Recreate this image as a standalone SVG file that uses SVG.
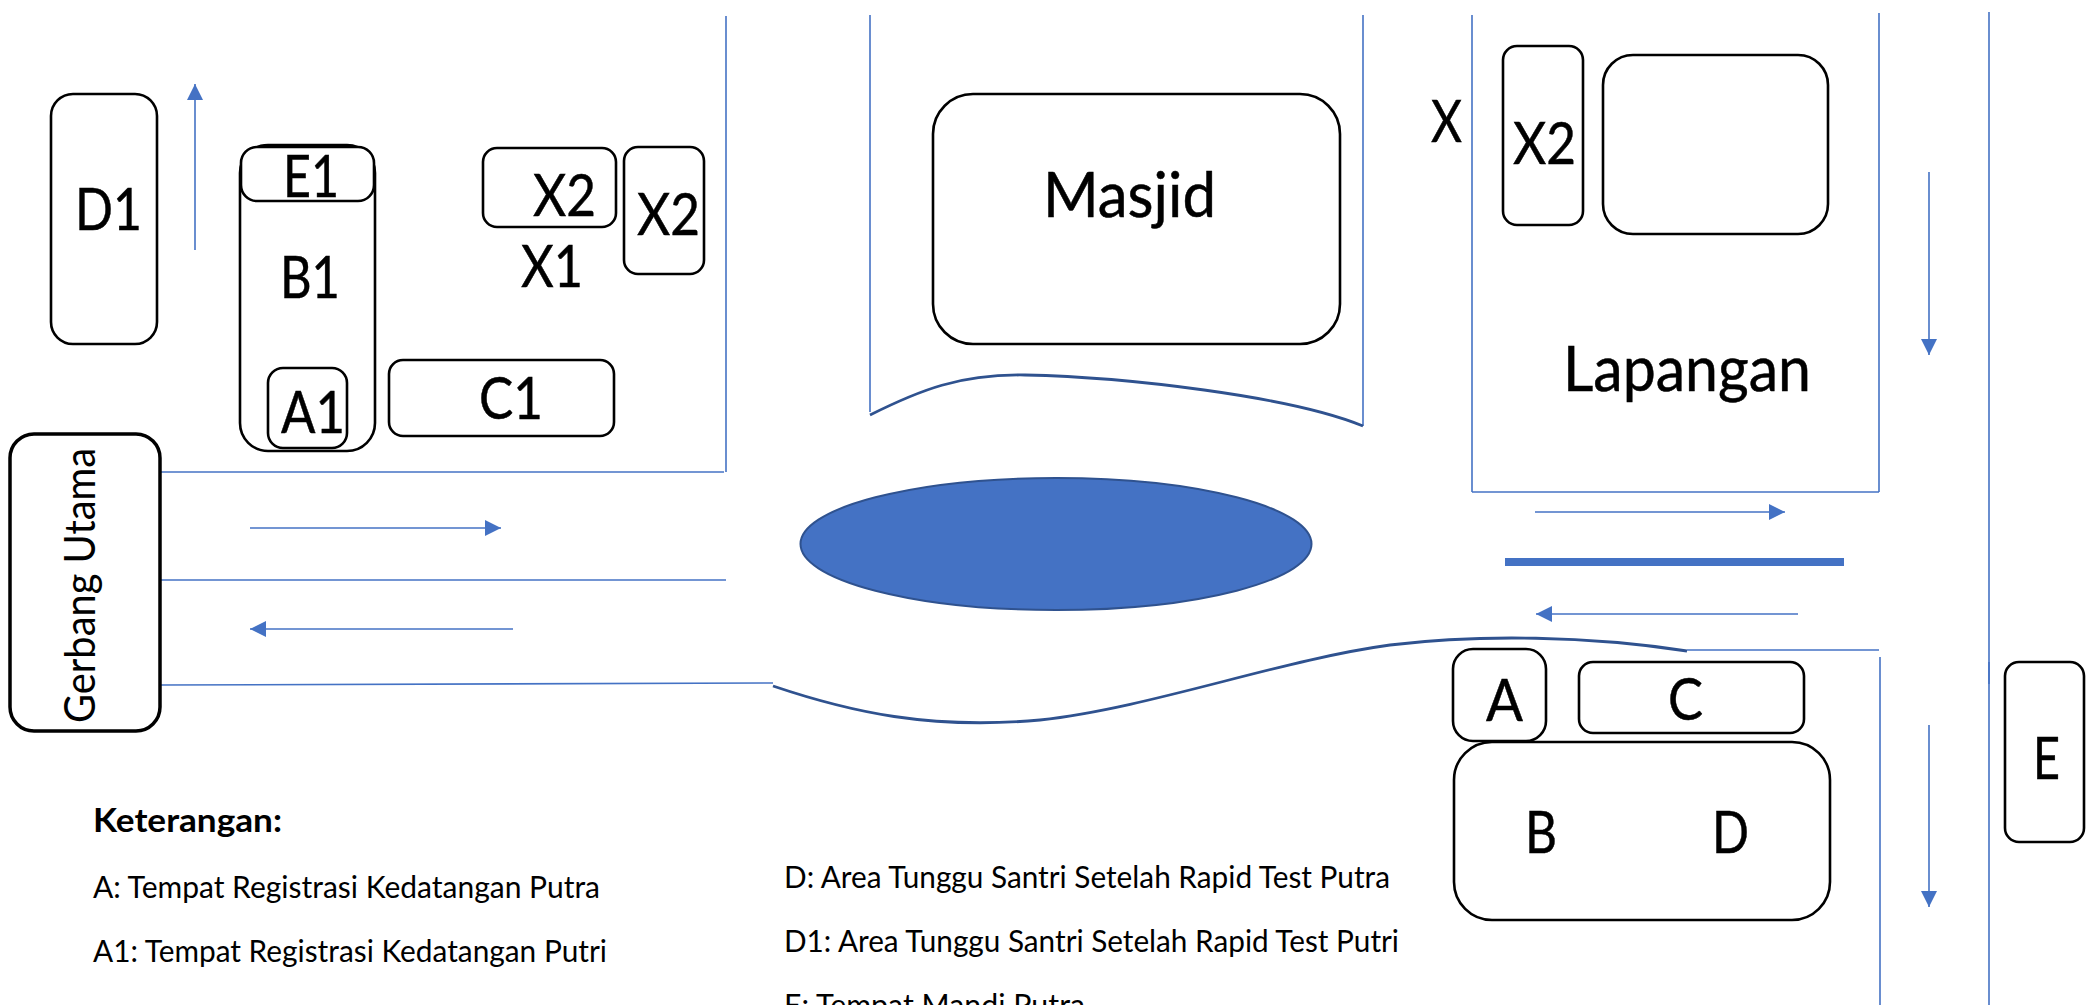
<svg xmlns="http://www.w3.org/2000/svg" width="2089" height="1005" viewBox="0 0 2089 1005">
<style>
text{font-family:"Lato","Open Sans","Liberation Sans",sans-serif;fill:#000}
.n{fill:#fff;stroke:#000;stroke-width:2.6}
.l{font-size:59px;stroke:#000;stroke-width:.5}
.s{font-size:31px}
.c line,.c path{fill:none;stroke:#4472c4;stroke-width:1.6}
.c .a{marker-end:url(#ah)}
.c .w{stroke:#2f528f;stroke-width:2.8}
</style>
<defs><marker id="ah" markerUnits="userSpaceOnUse" markerWidth="18" markerHeight="18" refX="16" refY="8" orient="auto"><path d="M0 0L16 8L0 16Z" fill="#4472c4" stroke="none"/></marker></defs>
<rect width="2089" height="1005" fill="#fff"/>
<g id="connectors" class="c">
<line x1="726" y1="16" x2="726" y2="472"/>
<line x1="160" y1="472" x2="724" y2="472"/>
<line x1="160" y1="580" x2="726" y2="580"/>
<line x1="160" y1="685" x2="773" y2="683"/>
<path class="w" d="M773 686C850 712 930 730 1040 720C1150 708 1280 660 1390 645C1480 634 1590 636 1687 651"/>
<line x1="1687" y1="650" x2="1879" y2="650"/>
<line x1="870" y1="15" x2="870" y2="412"/>
<line x1="1363" y1="15" x2="1363" y2="426"/>
<path class="w" d="M870 415C920 390 960 374 1025 375C1125 377 1290 396 1363 426"/>
<line x1="1472" y1="15" x2="1472" y2="492"/>
<line x1="1472" y1="492" x2="1879" y2="492"/>
<line x1="1879" y1="13" x2="1879" y2="492"/>
<line x1="1880" y1="657" x2="1880" y2="1005"/>
<line x1="1989" y1="12" x2="1989" y2="684"/>
<line x1="1989" y1="662" x2="1989" y2="1005"/>
<line class="a" x1="195" y1="250" x2="195" y2="84"/>
<line class="a" x1="250" y1="528" x2="501" y2="528"/>
<line class="a" x1="513" y1="629" x2="250" y2="629"/>
<line class="a" x1="1535" y1="512" x2="1785" y2="512"/>
<line class="a" x1="1798" y1="614" x2="1536" y2="614"/>
<line class="a" x1="1929" y1="172" x2="1929" y2="355"/>
<line class="a" x1="1929" y1="725" x2="1929" y2="907"/>
<line x1="1505" y1="562" x2="1844" y2="562" style="stroke-width:8"/>
</g>
<g id="node-kolam"><ellipse cx="1056" cy="544" rx="255.5" ry="66" fill="#4472c4" stroke="#2f528f" stroke-width="2"/></g>
<g id="node-d1"><rect class="n" x="51" y="94" width="106" height="250" rx="22"/><text class="l" x="75" y="230" textLength="67" lengthAdjust="spacingAndGlyphs">D1</text></g>
<g id="node-b1"><rect class="n" x="240" y="145" width="135" height="306" rx="28"/><text class="l" x="280" y="298" textLength="60" lengthAdjust="spacingAndGlyphs">B1</text></g>
<g id="node-e1"><rect class="n" x="241" y="147" width="133" height="54" rx="16"/><text class="l" x="283" y="197" textLength="56" lengthAdjust="spacingAndGlyphs">E1</text></g>
<g id="node-a1"><rect class="n" x="268" y="368" width="79" height="80" rx="15"/><text class="l" x="281" y="433" textLength="64" lengthAdjust="spacingAndGlyphs">A1</text></g>
<g id="node-c1"><rect class="n" x="389" y="360" width="225" height="76" rx="14"/><text class="l" x="479" y="419" textLength="64" lengthAdjust="spacingAndGlyphs">C1</text></g>
<g id="node-x2a"><rect class="n" x="483" y="148" width="133" height="79" rx="14"/><text class="l" x="533" y="216" textLength="63" lengthAdjust="spacingAndGlyphs">X2</text></g>
<g id="node-x2b"><rect class="n" x="624" y="147" width="80" height="127" rx="14"/><text class="l" x="637" y="235" textLength="63" lengthAdjust="spacingAndGlyphs">X2</text></g>
<g id="node-x1"><text class="l" x="521" y="287" textLength="62" lengthAdjust="spacingAndGlyphs">X1</text></g>
<g id="node-gerbang"><rect class="n" x="10" y="434" width="150" height="297" rx="24" style="stroke-width:3.5"/><text transform="translate(95 723) rotate(-90)" style="font-size:43px" textLength="275" lengthAdjust="spacingAndGlyphs">Gerbang Utama</text></g>
<g id="node-masjid"><rect class="n" x="933" y="94" width="407" height="250" rx="40"/><text class="l" x="1043" y="217" textLength="173" lengthAdjust="spacingAndGlyphs" style="font-size:62px">Masjid</text></g>
<g id="node-x"><text class="l" x="1431" y="142" textLength="31" lengthAdjust="spacingAndGlyphs">X</text></g>
<g id="node-x2c"><rect class="n" x="1503" y="46" width="80" height="179" rx="14"/><text class="l" x="1513" y="164" textLength="63" lengthAdjust="spacingAndGlyphs">X2</text></g>
<g id="node-lapangan-box"><rect class="n" x="1603" y="55" width="225" height="179" rx="30"/></g>
<g id="node-lapangan"><text class="l" x="1563" y="391" textLength="248" lengthAdjust="spacingAndGlyphs" style="font-size:62px">Lapangan</text></g>
<g id="node-b"><rect class="n" x="1454" y="742" width="376" height="178" rx="38"/><text class="l" x="1525" y="853" textLength="32" lengthAdjust="spacingAndGlyphs">B</text><text class="l" x="1712" y="853" textLength="37" lengthAdjust="spacingAndGlyphs">D</text></g>
<g id="node-a"><rect class="n" x="1453" y="649" width="93" height="92" rx="20"/><text class="l" x="1486" y="721" textLength="37" lengthAdjust="spacingAndGlyphs">A</text></g>
<g id="node-c"><rect class="n" x="1579" y="662" width="225" height="71" rx="14"/><text class="l" x="1668" y="720" textLength="35" lengthAdjust="spacingAndGlyphs">C</text></g>
<g id="node-e"><rect class="n" x="2005" y="662" width="79" height="180" rx="14"/><text class="l" x="2033" y="779" textLength="27" lengthAdjust="spacingAndGlyphs">E</text></g>
<g id="legend">
<text class="s" x="93" y="832" style="font-weight:700;font-size:33px" textLength="189" lengthAdjust="spacingAndGlyphs">Keterangan:</text>
<text class="s" x="93" y="898" textLength="507" lengthAdjust="spacingAndGlyphs">A: Tempat Registrasi Kedatangan Putra</text>
<text class="s" x="93" y="962" textLength="514" lengthAdjust="spacingAndGlyphs">A1: Tempat Registrasi Kedatangan Putri</text>
<text class="s" x="784" y="888" textLength="606" lengthAdjust="spacingAndGlyphs">D: Area Tunggu Santri Setelah Rapid Test Putra</text>
<text class="s" x="784" y="952" textLength="615" lengthAdjust="spacingAndGlyphs">D1: Area Tunggu Santri Setelah Rapid Test Putri</text>
<text class="s" x="784" y="1016" textLength="301" lengthAdjust="spacingAndGlyphs">E: Tempat Mandi Putra</text>
</g>
</svg>
